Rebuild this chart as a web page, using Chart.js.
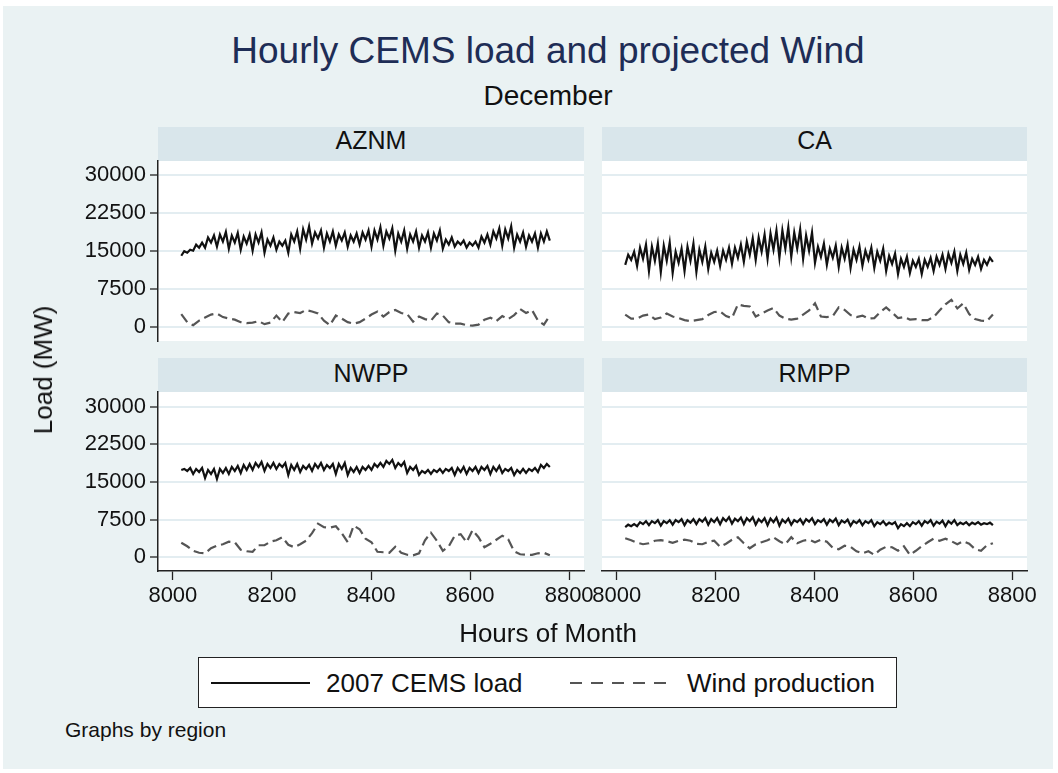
<!DOCTYPE html>
<html lang="en">
<head>
<meta charset="UTF-8">
<title>Hourly CEMS load and projected Wind</title>
<script src="https://cdn.jsdelivr.net/npm/chart.js"></script>
<style>
    * { margin: 0; padding: 0; box-sizing: border-box; }
    body {
        width: 1058px; height: 773px; position: relative; overflow: hidden;
        background: #ffffff;
        font-family: "Liberation Sans", Arial, Helvetica, sans-serif;
        color: #111;
    }
    #graph { position: absolute; left: 3px; top: 6px; width: 1050px; height: 763px; background: #eaf2f3; }
    .abs { position: absolute; white-space: nowrap; }
    .center { transform: translateX(-50%); }
    .band { position: absolute; background: #d9e6eb; text-align: center; font-size: 25px; line-height: 25px; }
    .area { position: absolute; background: #ffffff; }
    canvas { position: absolute; }
    #legend { position: absolute; left: 198px; top: 657px; width: 699px; height: 51px; background: #fff; border: 1.5px solid #222; }
</style>
</head>
<body>
<div id="graph"></div>

<div class="abs center" style="left:548px; top:32px; font-size:37px; line-height:37px; color:#1e2d56;">Hourly CEMS load and projected Wind</div>
<div class="abs center" style="left:548px; top:82px; font-size:28px; line-height:28px;">December</div>

<div class="band" style="left:158px; top:127px; width:426px; height:34px; padding-top:1px;">AZNM</div>
<div class="band" style="left:602px; top:127px; width:425px; height:34px; padding-top:1px;">CA</div>
<div class="band" style="left:158px; top:358px; width:426px; height:34px; padding-top:3px;">NWPP</div>
<div class="band" style="left:602px; top:358px; width:425px; height:34px; padding-top:3px;">RMPP</div>

<div class="area" style="left:158px; top:161px; width:426px; height:180px;"></div>
<div class="area" style="left:602px; top:161px; width:425px; height:180px;"></div>
<div class="area" style="left:158px; top:392px; width:426px; height:179px;"></div>
<div class="area" style="left:602px; top:392px; width:425px; height:179px;"></div>

<canvas id="c-aznm"></canvas>
<canvas id="c-ca"></canvas>
<canvas id="c-nwpp"></canvas>
<canvas id="c-rmpp"></canvas>

<div class="abs" style="left:43px; top:370px; font-size:26px; line-height:26px; transform:translate(-50%,-50%) rotate(-90deg);">Load (MW)</div>
<div class="abs center" style="left:548px; top:620px; font-size:26px; line-height:26px;">Hours of Month</div>

<div id="legend">
    <svg width="699" height="51" style="position:absolute;left:-1.5px;top:-1.5px;">
        <line x1="13" y1="26" x2="112" y2="26" stroke="#111" stroke-width="2.2"/>
        <line x1="372" y1="26" x2="473" y2="26" stroke="#555" stroke-width="2" stroke-dasharray="12 9"/>
    </svg>
    <div class="abs" style="left:127px; top:12px; font-size:26px; line-height:26px;">2007 CEMS load</div>
    <div class="abs" style="left:488px; top:12px; font-size:26px; line-height:26px;">Wind production</div>
</div>
<div class="abs" style="left:65px; top:719px; font-size:21px; line-height:21px;">Graphs by region</div>

<script>
// hour of year through December: load read every 6 hours, wind every 12 hours
const loadHours = [8017, 8023, 8029, 8035, 8041, 8047, 8053, 8059, 8065, 8071, 8077, 8083, 8089, 8095, 8101, 8107,
    8113, 8119, 8125, 8131, 8137, 8143, 8149, 8155, 8161, 8167, 8173, 8179, 8185, 8191, 8197, 8203,
    8209, 8215, 8221, 8227, 8233, 8239, 8245, 8251, 8257, 8263, 8269, 8275, 8281, 8287, 8293, 8299,
    8305, 8311, 8317, 8323, 8329, 8335, 8341, 8347, 8353, 8359, 8365, 8371, 8377, 8383, 8389, 8395,
    8401, 8407, 8413, 8419, 8425, 8431, 8437, 8443, 8449, 8455, 8461, 8467, 8473, 8479, 8485, 8491,
    8497, 8503, 8509, 8515, 8521, 8527, 8533, 8539, 8545, 8551, 8557, 8563, 8569, 8575, 8581, 8587,
    8593, 8599, 8605, 8611, 8617, 8623, 8629, 8635, 8641, 8647, 8653, 8659, 8665, 8671, 8677, 8683,
    8689, 8695, 8701, 8707, 8713, 8719, 8725, 8731, 8737, 8743, 8749, 8755, 8761];
const windHours = [8017, 8029, 8041, 8053, 8065, 8077, 8089, 8101, 8113, 8125, 8137, 8149, 8161, 8173, 8185, 8197,
    8209, 8221, 8233, 8245, 8257, 8269, 8281, 8293, 8305, 8317, 8329, 8341, 8353, 8365, 8377, 8389,
    8401, 8413, 8425, 8437, 8449, 8461, 8473, 8485, 8497, 8509, 8521, 8533, 8545, 8557, 8569, 8581,
    8593, 8605, 8617, 8629, 8641, 8653, 8665, 8677, 8689, 8701, 8713, 8725, 8737, 8749, 8761];

const loadAZNM = [14000, 14900, 14600, 15200, 15000, 16200, 15600, 16600, 15600, 17600, 16600, 18000,
    15800, 18200, 16800, 18700, 15400, 18000, 16600, 18500, 15200, 17800, 16400, 18200,
    15000, 18200, 16600, 18600, 14600, 17200, 16000, 17600, 15200, 16800, 16000, 17000,
    14600, 18200, 16800, 18800, 15400, 19200, 17200, 19800, 16400, 18600, 17400, 19000,
    15600, 18400, 16800, 18800, 16000, 18200, 17000, 18600, 15800, 18000, 16800, 18400,
    16200, 18600, 17200, 19000, 15800, 19000, 17200, 19600, 16000, 18800, 17400, 19400,
    15000, 18400, 16800, 19000, 15400, 18200, 16800, 18800, 15600, 18000, 16800, 18600,
    15600, 18400, 17000, 19000, 15400, 17200, 16200, 17600, 15800, 16800, 16200, 17000,
    15600, 16600, 16000, 16800, 15600, 17800, 16600, 18200, 16200, 18800, 17400, 19400,
    16000, 19200, 17400, 19800, 15600, 18200, 16800, 18600, 15800, 18000, 16800, 18400,
    15600, 18400, 16800, 18800, 17000];
const windAZNM = [2500, 900, 300, 1200, 1800, 2400, 2600, 1900, 1600, 1400, 900, 700, 800, 1100, 500, 800,
    2200, 900, 2600, 2900, 2700, 3300, 3000, 2600, 1200, 300, 2200, 1600, 900, 600, 900, 1600,
    2400, 3000, 2000, 2900, 3300, 2700, 2500, 1000, 2000, 1500, 1200, 2600, 2200, 900, 600, 600,
    300, 200, 400, 1400, 1800, 1100, 2100, 1500, 2300, 3500, 2700, 3300, 1200, 400, 2200];

const loadCA = [12200, 14200, 13200, 14800, 12000, 15600, 13400, 16200, 11000, 15800, 13000, 16400,
    10800, 16000, 13000, 16600, 10600, 14800, 12600, 15400, 11000, 15800, 13000, 16400,
    10800, 15200, 12800, 15800, 11400, 14600, 12800, 15000, 12000, 15000, 13200, 15600,
    12400, 15600, 13600, 16200, 12800, 16800, 14200, 17400, 13200, 17600, 14800, 18200,
    13400, 18400, 15200, 19000, 13600, 19000, 15400, 19600, 13800, 18600, 15400, 19200,
    13400, 18000, 15000, 18600, 12600, 15800, 13800, 16400, 12200, 15400, 13600, 16000,
    11800, 15600, 13400, 16200, 11600, 15200, 13200, 15800, 12000, 15000, 13200, 15600,
    11600, 14800, 13000, 15400, 11000, 14000, 12400, 14400, 10400, 13400, 11800, 13800,
    10600, 13000, 11800, 13400, 10400, 13200, 11800, 13600, 11000, 13800, 12200, 14200,
    11400, 14400, 12600, 14800, 11000, 14200, 12400, 14600, 11200, 13400, 12200, 13800,
    11400, 13200, 12200, 13600, 12800];
const windCA = [2400, 1600, 1600, 2200, 2400, 1500, 1800, 2600, 2000, 1700, 1300, 1100, 1300, 1500, 2300, 2900,
    3000, 2100, 1700, 4400, 4100, 4000, 2000, 2600, 3200, 3700, 2200, 1600, 1400, 1600, 2400, 3200,
    4600, 2000, 1900, 2100, 3800, 3300, 2300, 1900, 2200, 1600, 1700, 2900, 3800, 2800, 1700, 1900,
    1400, 1500, 1300, 1300, 1900, 3200, 4400, 5300, 3600, 4600, 2500, 1500, 1200, 1100, 2400];

const loadNWPP = [17400, 17600, 17200, 17800, 16600, 17600, 17000, 17800, 15800, 17400, 16600, 17600,
    15600, 17600, 16800, 17800, 16600, 18000, 17200, 18200, 16800, 18400, 17400, 18600,
    17400, 18800, 18000, 19000, 17200, 18600, 17800, 18800, 17600, 18600, 18000, 18800,
    16400, 18400, 17400, 18600, 17000, 18200, 17600, 18400, 17200, 18600, 17800, 18800,
    17400, 18400, 17800, 18600, 16600, 18600, 17600, 18800, 16400, 17800, 17000, 18000,
    16800, 18000, 17400, 18200, 17400, 18600, 18000, 18800, 18000, 19200, 18600, 19400,
    17800, 18800, 18200, 19000, 16800, 18000, 17400, 18200, 16400, 17200, 16800, 17400,
    16600, 17400, 17000, 17600, 16800, 17600, 17200, 17800, 16400, 17800, 17000, 18000,
    16600, 17800, 17200, 18000, 16800, 18000, 17400, 18200, 16600, 18000, 17200, 18200,
    16800, 17600, 17200, 17800, 16400, 17400, 16800, 17600, 16800, 17600, 17200, 17800,
    17000, 18400, 17800, 18600, 18000];
const windNWPP = [2900, 2200, 1300, 900, 800, 1800, 2300, 2600, 3100, 3000, 1500, 1200, 1100, 2400, 2400, 3100,
    3400, 4000, 2500, 2000, 2600, 3300, 4800, 6700, 6000, 5900, 6200, 4800, 3000, 6300, 5600, 3700,
    3000, 1100, 1000, 900, 2100, 900, 500, 400, 800, 3400, 4900, 3300, 1300, 2200, 4300, 4600,
    3000, 5400, 4000, 2000, 2700, 3500, 4300, 3600, 1200, 600, 500, 500, 800, 900, 400];

const loadRMPP = [6000, 6500, 6200, 6600, 6200, 7000, 6600, 7200, 6400, 7200, 6800, 7400,
    6300, 7200, 6800, 7400, 6500, 7400, 7000, 7600, 6400, 7400, 6900, 7600,
    6600, 7600, 7100, 7800, 6500, 7600, 7000, 7800, 6600, 7800, 7200, 8000,
    6700, 7700, 7200, 7900, 6600, 7800, 7200, 8000, 6500, 7600, 7000, 7800,
    6400, 7700, 7000, 7900, 6300, 7500, 6900, 7700, 6500, 7400, 7000, 7600,
    6600, 7600, 7100, 7800, 6600, 7400, 7000, 7600, 6500, 7500, 7000, 7700,
    6400, 7300, 6900, 7500, 6300, 7200, 6800, 7400, 6400, 7200, 6800, 7400,
    6200, 7000, 6600, 7200, 6400, 6900, 6600, 7000, 5800, 6600, 6200, 6800,
    6200, 7000, 6600, 7200, 6300, 7200, 6800, 7400, 6300, 7100, 6700, 7300,
    6200, 7200, 6700, 7400, 6400, 6900, 6600, 7000, 6400, 6900, 6600, 7000,
    6500, 6800, 6600, 6900, 6400];
const windRMPP = [3800, 3400, 2900, 2600, 2800, 3300, 3400, 3200, 2900, 3300, 3500, 3300, 2700, 2600, 3100, 3300,
    2100, 2700, 3500, 4000, 2800, 1800, 2600, 3000, 3400, 4000, 3200, 2600, 4000, 2800, 3300, 3500,
    3000, 3500, 3100, 1900, 1600, 2300, 2100, 1200, 800, 1200, 500, 1500, 2100, 2000, 1300, 2200,
    500, 1300, 2200, 3000, 3700, 3300, 3700, 3200, 2600, 3200, 2700, 1600, 1300, 2400, 2800];

const yTicks = [0, 7500, 15000, 22500, 30000];
const xTicks = [8000, 8200, 8400, 8600, 8800];

Chart.defaults.font.family = '"Liberation Sans", Arial, Helvetica, sans-serif';
Chart.defaults.color = '#111';

const gridColor = '#e3edf1';

// plot area of each panel in page pixels
const panels = [
    { id: 'c-aznm', load: loadAZNM, wind: windAZNM, left: 158, top: 161, w: 426, h: 180, yAxis: true,  xAxis: false, ymin: -2820, ymax: 32700 },
    { id: 'c-ca',   load: loadCA,   wind: windCA,   left: 602, top: 161, w: 425, h: 180, yAxis: false, xAxis: false, ymin: -2820, ymax: 32700 },
    { id: 'c-nwpp', load: loadNWPP, wind: windNWPP, left: 158, top: 392, w: 426, h: 179, yAxis: true,  xAxis: true,  ymin: -2730, ymax: 32930 },
    { id: 'c-rmpp', load: loadRMPP, wind: windRMPP, left: 602, top: 392, w: 425, h: 179, yAxis: false, xAxis: true,  ymin: -2730, ymax: 32930 }
];

function points(xs, values) {
    return xs.map((h, i) => ({ x: h, y: values[i] }));
}

panels.forEach(p => {
    const L = p.yAxis ? 118 : 20, T = 20, R = 30, B = p.xAxis ? 50 : 20;
    const canvas = document.getElementById(p.id);
    canvas.width = L + p.w + R;
    canvas.height = T + p.h + B;
    canvas.style.left = (p.left - L) + 'px';
    canvas.style.top = (p.top - T) + 'px';

    const xScale = {
        type: 'linear',
        min: 7970,
        max: 8830,
        display: p.xAxis,
        afterBuildTicks: s => { s.ticks = xTicks.map(v => ({ value: v })); },
        grid: { drawOnChartArea: false, drawTicks: true, tickLength: 9, tickColor: '#222', tickWidth: 1.3 },
        border: { display: true, color: '#222', width: 1.5 },
        ticks: { font: { size: 22 }, color: '#111', padding: 3, maxRotation: 0, autoSkip: false, callback: v => String(v) }
    };
    if (p.xAxis) xScale.afterFit = s => { s.height = B; };

    new Chart(canvas, {
        type: 'line',
        data: {
            datasets: [
                { label: '2007 CEMS load', data: points(loadHours, p.load), borderColor: '#111', borderWidth: 2.2, pointRadius: 0, tension: 0 },
                { label: 'Wind production', data: points(windHours, p.wind), borderColor: '#555', borderWidth: 2.2, borderDash: [10, 5], pointRadius: 0, tension: 0 }
            ]
        },
        options: {
            responsive: false,
            animation: false,
            devicePixelRatio: 1,
            layout: { padding: { left: p.yAxis ? 0 : L, top: T, right: R, bottom: p.xAxis ? 0 : B } },
            plugins: { legend: { display: false }, tooltip: { enabled: false } },
            scales: {
                x: xScale,
                y: {
                    type: 'linear',
                    min: p.ymin,
                    max: p.ymax,
                    afterBuildTicks: s => { s.ticks = yTicks.map(v => ({ value: v })); },
                    afterFit: s => { s.width = p.yAxis ? L : 0; },
                    grid: { color: gridColor, lineWidth: 2, drawTicks: p.yAxis, tickLength: 8, tickColor: '#222', tickWidth: 1.3 },
                    border: { display: p.yAxis, color: '#222', width: 1.5 },
                    ticks: { display: p.yAxis, font: { size: 22 }, color: '#111', padding: 4, callback: v => String(v) }
                }
            }
        }
    });
});
</script>
</body>
</html>
